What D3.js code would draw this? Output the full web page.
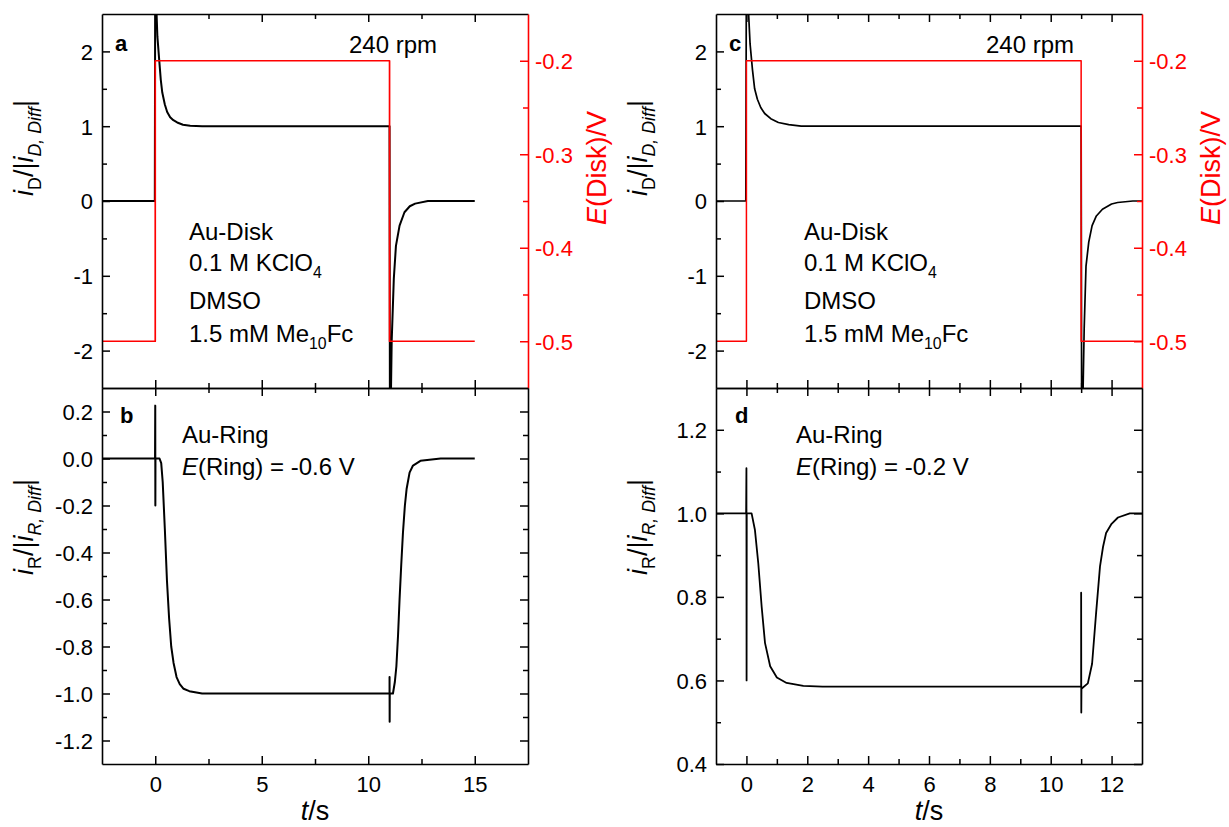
<!DOCTYPE html>
<html>
<head>
<meta charset="utf-8">
<script src="https://cdn.jsdelivr.net/npm/d3@7"></script>
<style>
  body { margin: 0; background: #fff; }
  svg { display: block; }
  text { font-family: "Liberation Sans", Arial, Helvetica, sans-serif; }
</style>
</head>
<body>
<svg id="chart" width="1229" height="827"></svg>
<script>
// ---------- data: [time / s, value] ----------
// disk current, normalised (left panels: 240 rpm, E(Ring) = -0.6 V run)
const diskCurrentA = [
  [-2.5, 0], [-0.02, 0], [0.0, 3.5], [0.05, 2.6], [0.1, 2.2], [0.19, 1.87], [0.26, 1.62],
  [0.33, 1.45], [0.45, 1.29], [0.56, 1.19], [0.7, 1.12], [0.85, 1.08], [1.03, 1.05],
  [1.3, 1.02], [1.64, 1.005], [2.2, 1.0], [11.0, 1.0], [11.02, -3.5], [11.1, -1.88],
  [11.2, -1.04], [11.3, -0.6], [11.47, -0.33], [11.7, -0.15], [11.95, -0.07],
  [12.2, -0.035], [12.8, 0], [15, 0]
];
// disk potential step, V
const diskPotentialA = [[-2.5, -0.5], [0, -0.5], [0, -0.2], [11, -0.2], [11, -0.5], [15, -0.5]];
// ring current, normalised
const ringCurrentB = [
  [-2.5, 0], [-0.01, 0], [0, 0.225], [0.005, -0.2], [0.01, 0], [0.2, 0], [0.28, -0.02],
  [0.35, -0.1], [0.45, -0.3], [0.55, -0.52], [0.65, -0.68], [0.75, -0.8], [0.86, -0.87],
  [1.0, -0.93], [1.15, -0.96], [1.33, -0.98], [1.6, -0.99], [2.2, -1.0], [11.0, -1.0],
  [11.0, -0.93], [11.005, -1.12], [11.01, -1.0], [11.16, -1.0], [11.25, -0.95],
  [11.32, -0.885], [11.4, -0.75], [11.47, -0.6], [11.55, -0.45], [11.63, -0.315],
  [11.72, -0.2], [11.8, -0.13], [11.94, -0.06], [12.1, -0.03], [12.45, -0.01], [13.4, 0], [15, 0]
];

// right panels: E(Ring) = -0.2 V run
const diskCurrentC = [
  [-1, 0], [-0.02, 0], [0.0, 3.5], [0.06, 2.6], [0.12, 2.1], [0.2, 1.75], [0.27, 1.5],
  [0.36, 1.36], [0.47, 1.25], [0.6, 1.17], [0.8, 1.1], [1.05, 1.05], [1.39, 1.02],
  [1.8, 1.0], [11, 1.0], [11.02, -3.5], [11.1, -1.7], [11.16, -0.87], [11.25, -0.55],
  [11.36, -0.33], [11.5, -0.2], [11.7, -0.11], [12.0, -0.04], [12.2, -0.02], [12.7, 0], [13, 0]
];
const diskPotentialC = [[-1, -0.5], [0, -0.5], [0, -0.2], [11, -0.2], [11, -0.5], [13, -0.5]];
const ringCurrentD = [
  [-1, 1.0], [-0.01, 1.0], [0, 1.108], [0.005, 0.6], [0.01, 1.0], [0.17, 1.0], [0.28, 0.96],
  [0.39, 0.88], [0.5, 0.777], [0.61, 0.69], [0.78, 0.634], [1.0, 0.607], [1.32, 0.594],
  [1.87, 0.587], [2.5, 0.585], [11.0, 0.585], [11.0, 0.81], [11.005, 0.523], [11.01, 0.58],
  [11.22, 0.593], [11.36, 0.64], [11.49, 0.76], [11.62, 0.873], [11.72, 0.92],
  [11.82, 0.953], [12.0, 0.975], [12.21, 0.99], [12.6, 1.0], [13, 1.0]
];

// ---------- tick values ----------
const timeTicksLeft = [0, 5, 10, 15], timeMinorLeft = [2.5, 7.5, 12.5];
const timeTicksRight = [0, 2, 4, 6, 8, 10, 12], timeMinorRight = [1, 3, 5, 7, 9, 11];
const diskTicks = [-2, -1, 0, 1, 2], diskMinor = [-1.5, -0.5, 0.5, 1.5];
const potentialTicks = [-0.5, -0.4, -0.3, -0.2], potentialMinor = [-0.45, -0.35, -0.25];
const ringTicksB = [-1.2, -1.0, -0.8, -0.6, -0.4, -0.2, 0.0, 0.2];
const ringMinorB = [-1.1, -0.9, -0.7, -0.5, -0.3, -0.1, 0.1];
const ringTicksD = [0.4, 0.6, 0.8, 1.0, 1.2], ringMinorD = [0.5, 0.7, 0.9, 1.1];

const RED = "#ff0000";
const svg = d3.select("#chart");

// ---------- layout ----------
const rowTop = 14, rowMid = 388, rowBottom = 764;
const colL = { x0: 102, x1: 528 }, colR = { x0: 716, x1: 1142 };

const xL = d3.scaleLinear().domain([-2.5, 17.5]).range([colL.x0, colL.x1]);
const xR = d3.scaleLinear().domain([-1, 13]).range([colR.x0, colR.x1]);
const yDiskL = d3.scaleLinear().domain([-2.5, 2.5]).range([rowMid, rowTop]);
const yDiskR = d3.scaleLinear().domain([-2.5, 2.5]).range([rowMid, rowTop]);
const yPotL = d3.scaleLinear().domain([-0.55, -0.15]).range([rowMid, rowTop]);
const yPotR = d3.scaleLinear().domain([-0.55, -0.15]).range([rowMid, rowTop]);
const yRingB = d3.scaleLinear().domain([-1.3, 0.3]).range([rowBottom, rowMid]);
const yRingD = d3.scaleLinear().domain([0.4, 1.3]).range([rowBottom, rowMid]);

const fmtInt = d => String(d);
const fmt1 = d => d.toFixed(1);

const TICK_FONT = 22, MAJOR = 8, MINOR = 5;

function axis(orient, scale, pos, major, minor, fmt, color, pad) {
  color = color || "#000";
  const make = { left: d3.axisLeft, right: d3.axisRight, top: d3.axisTop, bottom: d3.axisBottom }[orient];
  const vertical = orient === "left" || orient === "right";
  const tr = vertical ? `translate(${pos},0)` : `translate(0,${pos})`;
  const gMin = svg.append("g").attr("transform", tr)
    .call(make(scale).tickValues(minor).tickSizeInner(-MINOR).tickSizeOuter(0).tickFormat(""));
  gMin.select(".domain").remove();
  gMin.selectAll(".tick line").attr("stroke", color).attr("stroke-width", 1.5);
  const gMaj = svg.append("g").attr("transform", tr)
    .call(make(scale).tickValues(major).tickSizeInner(-MAJOR).tickSizeOuter(0)
      .tickPadding(pad || 8).tickFormat(fmt || ""));
  gMaj.select(".domain").attr("stroke", color).attr("stroke-width", 1.6);
  gMaj.selectAll(".tick line").attr("stroke", color).attr("stroke-width", 1.5);
  gMaj.selectAll(".tick text").attr("fill", color).attr("font-size", TICK_FONT)
    .attr("font-family", "Liberation Sans, Arial, sans-serif");
  if (vertical) gMaj.selectAll(".tick text").attr("dy", "0.36em");
}

let clipId = 0;
function clip(x0, y0, x1, y1) {
  const id = "clip" + (clipId++);
  svg.append("clipPath").attr("id", id).append("rect")
    .attr("x", x0).attr("y", y0).attr("width", x1 - x0).attr("height", y1 - y0);
  return `url(#${id})`;
}

function trace(data, x, y, color, width, clipUrl) {
  svg.append("path").datum(data)
    .attr("clip-path", clipUrl)
    .attr("fill", "none").attr("stroke", color).attr("stroke-width", width)
    .attr("stroke-linejoin", "round")
    .attr("d", d3.line().x(d => x(d[0])).y(d => y(d[1])));
}

// ---------- data traces ----------
const clipA = clip(colL.x0, rowTop, colL.x1, rowMid);
const clipB = clip(colL.x0, rowMid, colL.x1, rowBottom);
const clipC = clip(colR.x0, rowTop, colR.x1, rowMid);
const clipD = clip(colR.x0, rowMid, colR.x1, rowBottom);

trace(diskCurrentA, xL, yDiskL, "#000", 2, clipA);
trace(diskPotentialA, xL, yPotL, RED, 1.7, clipA);
trace(ringCurrentB, xL, yRingB, "#000", 2, clipB);
trace(diskCurrentC, xR, yDiskR, "#000", 1.7, clipC);
trace(diskPotentialC, xR, yPotR, RED, 1.5, clipC);
trace(ringCurrentD, xR, yRingD, "#000", 1.8, clipD);

// ---------- axes ----------
// panel a
axis("left", yDiskL, colL.x0, diskTicks, diskMinor, fmtInt, "#000", 9);
axis("top", xL, rowTop, timeTicksLeft, timeMinorLeft, null);
axis("bottom", xL, rowMid, timeTicksLeft, timeMinorLeft, null);
axis("right", yPotL, colL.x1, potentialTicks, potentialMinor, fmt1, RED, 7);
// panel b
axis("left", yRingB, colL.x0, ringTicksB, ringMinorB, fmt1, "#000", 9);
axis("top", xL, rowMid, timeTicksLeft, timeMinorLeft, null);
axis("right", yRingB, colL.x1, ringTicksB, ringMinorB, null);
axis("bottom", xL, rowBottom, timeTicksLeft, timeMinorLeft, fmtInt, "#000", 12);
// panel c
axis("left", yDiskR, colR.x0, diskTicks, diskMinor, fmtInt, "#000", 9);
axis("top", xR, rowTop, timeTicksRight, timeMinorRight, null);
axis("bottom", xR, rowMid, timeTicksRight, timeMinorRight, null);
axis("right", yPotR, colR.x1, potentialTicks, potentialMinor, fmt1, RED, 7);
// panel d
axis("left", yRingD, colR.x0, ringTicksD, ringMinorD, fmt1, "#000", 9);
axis("top", xR, rowMid, timeTicksRight, timeMinorRight, null);
axis("right", yRingD, colR.x1, ringTicksD, ringMinorD, null);
axis("bottom", xR, rowBottom, timeTicksRight, timeMinorRight, fmtInt, "#000", 12);

// ---------- text helpers ----------
// parts: [text, {italic, sub, bold}]
function richText(x, y, parts, opts) {
  opts = opts || {};
  const size = opts.size || 24;
  const t = svg.append("text").attr("x", x).attr("y", y)
    .attr("font-size", size).attr("fill", opts.color || "#000")
    .attr("text-anchor", opts.anchor || "start");
  if (opts.rotate) t.attr("transform", `rotate(-90,${x},${y})`);
  let shifted = 0;
  parts.forEach(p => {
    const s = t.append("tspan").text(p[0]);
    const f = p[1] || {};
    if (f.italic) s.attr("font-style", "italic");
    if (f.bold) s.attr("font-weight", "bold");
    const want = f.sub ? Math.round(size * 0.3) : 0;
    if (f.sub) s.attr("font-size", size * 0.66);
    if (want !== shifted) { s.attr("dy", want - shifted); shifted = want; }
  });
  return t;
}

// panel letters
[["a", 115, 51], ["b", 120, 423], ["c", 729, 51], ["d", 735, 423]].forEach(l =>
  richText(l[1], l[2], [[l[0], { bold: true }]], { size: 22 }));

// rotation speed
richText(349, 53, [["240 rpm"]]);
richText(986, 53, [["240 rpm"]]);

// electrolyte annotations
function diskNote(x) {
  richText(x, 240, [["Au-Disk"]]);
  richText(x, 271, [["0.1 M KClO"], ["4", { sub: true }]]);
  richText(x, 309, [["DMSO"]]);
  richText(x, 342, [["1.5 mM Me"], ["10", { sub: true }], ["Fc"]]);
}
diskNote(189);
diskNote(804);

richText(182, 443, [["Au-Ring"]]);
richText(182, 475, [["E", { italic: true }], ["(Ring) = -0.6 V"]]);
richText(796, 443, [["Au-Ring"]]);
richText(796, 475, [["E", { italic: true }], ["(Ring) = -0.2 V"]]);

// axis titles
const TITLE = 27;
function diskTitle(x) {
  richText(x, 148, [["i", { italic: true }], ["D", { sub: true }], ["/|"], ["i", { italic: true }],
    ["D, Diff", { italic: true, sub: true }], ["|"]], { size: TITLE, rotate: true, anchor: "middle" });
}
function ringTitle(x) {
  richText(x, 527, [["i", { italic: true }], ["R", { sub: true }], ["/|"], ["i", { italic: true }],
    ["R, Diff", { italic: true, sub: true }], ["|"]], { size: TITLE, rotate: true, anchor: "middle" });
}
function potentialTitle(x) {
  richText(x, 168, [["E", { italic: true }], ["(Disk)/V"]],
    { size: TITLE, rotate: true, anchor: "middle", color: RED });
}
diskTitle(33); ringTitle(33); potentialTitle(606);
diskTitle(647); ringTitle(647); potentialTitle(1220);

richText(315, 820, [["t", { italic: true }], ["/s"]], { size: TITLE, anchor: "middle" });
richText(929, 820, [["t", { italic: true }], ["/s"]], { size: TITLE, anchor: "middle" });
</script>
</body>
</html>
